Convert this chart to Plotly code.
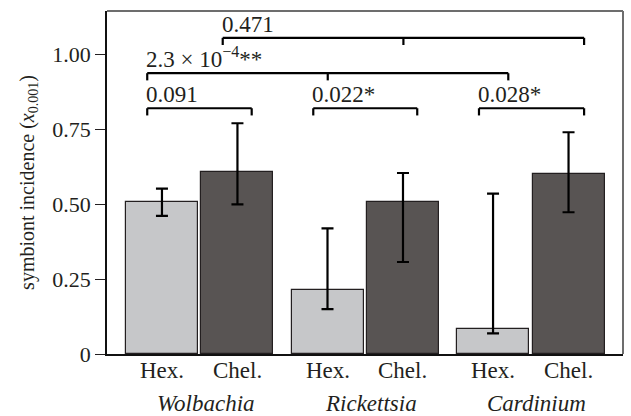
import plotly.graph_objects as go

# ---- data ----
groups = ["Wolbachia", "Rickettsia", "Cardinium"]
hosts = ["Hex.", "Chel."]
hex_vals = [0.506, 0.212, 0.082]
hex_hi = [0.552, 0.419, 0.535]
hex_lo = [0.461, 0.150, 0.069]
chel_vals = [0.608, 0.506, 0.599]
chel_hi = [0.770, 0.604, 0.740]
chel_lo = [0.499, 0.307, 0.473]

# brackets: (x_left, x_right, y_level, label)
bracket_x0 = [-0.317, 0.686, 1.687, -0.317, 0.139]
bracket_x1 = [0.314, 1.314, 2.322, 1.864, 2.322]
bracket_y = [0.820, 0.820, 0.820, 0.937, 1.055]
bracket_mid = [False, False, False, True, True]
bracket_lbl = ["0.091", "0.022*", "0.028*", "2.3 × 10<sup>−4</sup>**", "0.471"]

yticks = [0, 0.25, 0.5, 0.75, 1.0]
yticklabels = ["0", "0.25", "0.50", "0.75", "1.00"]

FONT = "Liberation Serif, Times New Roman, serif"
TXT = "#231f20"
off = 0.228
bw = 0.435
gx = list(range(len(groups)))

fig = go.Figure()
fig.add_trace(go.Bar(
    x=[g - off for g in gx], y=hex_vals, width=bw,
    marker=dict(color="#c6c7c9", line=dict(color="#231f20", width=1.2)),
    error_y=dict(type="data", symmetric=False,
                 array=[h - v for h, v in zip(hex_hi, hex_vals)],
                 arrayminus=[v - l for v, l in zip(hex_vals, hex_lo)],
                 color="black", thickness=2.2, width=6),
    showlegend=False))
fig.add_trace(go.Bar(
    x=[g + off for g in gx], y=chel_vals, width=bw,
    marker=dict(color="#585453", line=dict(color="#231f20", width=1.2)),
    error_y=dict(type="data", symmetric=False,
                 array=[h - v for h, v in zip(chel_hi, chel_vals)],
                 arrayminus=[v - l for v, l in zip(chel_vals, chel_lo)],
                 color="black", thickness=2.2, width=6),
    showlegend=False))

# top and right frame (grey)
frame = dict(color="#6d6d6d", width=2)
fig.add_shape(type="line", xref="paper", yref="paper", x0=0, x1=1, y0=1, y1=1, line=frame)
fig.add_shape(type="line", xref="paper", yref="paper", x0=1, x1=1, y0=0, y1=1, line=frame)

tick_drop = 0.024
for x0, x1, y, mid, lbl in zip(bracket_x0, bracket_x1, bracket_y, bracket_mid, bracket_lbl):
    ln = dict(color="black", width=2.2)
    fig.add_shape(type="line", x0=x0, x1=x1, y0=y, y1=y, xref="x", yref="y", line=ln)
    fig.add_shape(type="line", x0=x0, x1=x0, y0=y, y1=y - tick_drop, xref="x", yref="y", line=ln)
    fig.add_shape(type="line", x0=x1, x1=x1, y0=y, y1=y - tick_drop, xref="x", yref="y", line=ln)
    if mid:
        xm = (x0 + x1) / 2
        fig.add_shape(type="line", x0=xm, x1=xm, y0=y, y1=y - tick_drop, xref="x", yref="y", line=ln)
    fig.add_annotation(x=x0, y=y, xref="x", yref="y", text=lbl, showarrow=False,
                       xanchor="left", yanchor="bottom", xshift=-3, yshift=-1,
                       font=dict(family=FONT, size=23, color=TXT))

tv = []
tt = []
for g in gx:
    tv += [g - off, g + off]
    tt += hosts

for x, t in zip(tv, tt):
    fig.add_annotation(x=x, y=0, xref="x", yref="paper", text=t,
                       showarrow=False, yanchor="middle", yshift=-16,
                       font=dict(family=FONT, size=23, color=TXT))

for g, name in zip(gx, groups):
    fig.add_annotation(x=g, y=0, xref="x", yref="paper", text=f"<i>{name}</i>",
                       showarrow=False, yanchor="middle", yshift=-49, xshift=6,
                       font=dict(family=FONT, size=23, color=TXT))

fig.update_layout(
    width=631, height=416,
    margin=dict(l=107, r=8, t=11, b=62, autoexpand=False),
    plot_bgcolor="white", paper_bgcolor="white",
    font=dict(family=FONT, size=22, color=TXT),
    bargap=0,
    xaxis=dict(range=[-0.56, 2.557], showticklabels=False, ticks="",
               showline=True, linecolor="#111111", linewidth=1.6,
               showgrid=False, zeroline=False),
    yaxis=dict(range=[0, 1.1445], tickvals=yticks, ticktext=yticklabels,
               ticks="outside", ticklen=10, tickwidth=1.2, tickcolor="#231f20",
               showline=True, linecolor="#111111", linewidth=1.6,
               showgrid=False, zeroline=False, tickfont=dict(size=22),
               title=dict(text="symbiont incidence (<i>x</i><sub>0.001</sub>)",
                          font=dict(size=20), standoff=12)),
)

fig.write_html("out.html", config={"displayModeBar": False},
               post_script="document.body.style.margin='0';")
